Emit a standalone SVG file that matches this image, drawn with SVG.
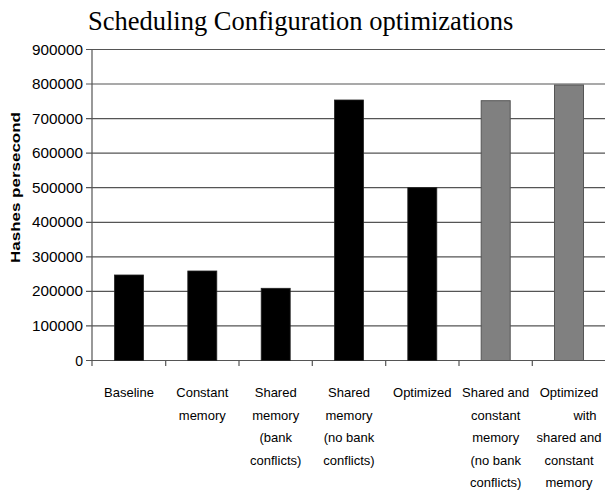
<svg xmlns="http://www.w3.org/2000/svg" width="605" height="495" viewBox="0 0 605 495">
<style>
.grid{stroke:#555;stroke-width:1.2;fill:none}
.axis{stroke:#555;stroke-width:1.2;fill:none}
.bar{fill:#000;stroke:#222;stroke-width:0.8}
.gbar{fill:#808080;stroke:#555;stroke-width:1}
.yl{font-family:"Liberation Sans",Arial,sans-serif;font-size:14px;fill:#000;text-anchor:end}
.xl{font-family:"Liberation Sans",Arial,sans-serif;font-size:13px;fill:#000;text-anchor:middle}
.title{font-family:"Liberation Serif","Times New Roman",serif;font-size:26.5px;fill:#000}
.ytitle{font-family:"Liberation Sans",Arial,sans-serif;font-size:12px;font-weight:bold;fill:#000;text-anchor:middle}
</style>
<rect width="605" height="495" fill="#fff"/>
<text class="title" x="88" y="30">Scheduling Configuration optimizations</text>
<g id="gridlines">
<path class="grid" d="M86 49.5H605M86 84H605M86 118.6H605M86 153.2H605M86 187.7H605M86 222.3H605M86 256.8H605M86 291.4H605M86 325.9H605M86 360.5H605"/>
</g>
<g id="axes">
<path class="axis" d="M92 49.5V366M165.7 360.5V366M239 360.5V366M312.3 360.5V366M385.7 360.5V366M459 360.5V366M532.3 360.5V366"/>
</g>
<g id="ylabels">
<text class="yl" x="83" y="54.5" textLength="51" lengthAdjust="spacingAndGlyphs">900000</text>
<text class="yl" x="83" y="89" textLength="51" lengthAdjust="spacingAndGlyphs">800000</text>
<text class="yl" x="83" y="123.6" textLength="51" lengthAdjust="spacingAndGlyphs">700000</text>
<text class="yl" x="83" y="158.2" textLength="51" lengthAdjust="spacingAndGlyphs">600000</text>
<text class="yl" x="83" y="192.7" textLength="51" lengthAdjust="spacingAndGlyphs">500000</text>
<text class="yl" x="83" y="227.3" textLength="51" lengthAdjust="spacingAndGlyphs">400000</text>
<text class="yl" x="83" y="261.8" textLength="51" lengthAdjust="spacingAndGlyphs">300000</text>
<text class="yl" x="83" y="296.4" textLength="51" lengthAdjust="spacingAndGlyphs">200000</text>
<text class="yl" x="83" y="330.9" textLength="51" lengthAdjust="spacingAndGlyphs">100000</text>
<text class="yl" x="83" y="365.5">0</text>
</g>
<text class="ytitle" transform="translate(20,187.5) rotate(-90)" x="0" y="0" textLength="151" lengthAdjust="spacingAndGlyphs">Hashes persecond</text>
<g id="bar-baseline"><rect class="bar" x="114.5" y="275" width="29" height="85.5"/>
<text class="xl" x="129" y="397">Baseline</text></g>
<g id="bar-constant"><rect class="bar" x="187.8" y="271" width="29" height="89.5"/>
<text class="xl" x="202.3" y="397">Constant</text><text class="xl" x="202.3" y="419.5">memory</text></g>
<g id="bar-shared-bank"><rect class="bar" x="261.2" y="288.3" width="29" height="72.2"/>
<text class="xl" x="275.7" y="397">Shared</text><text class="xl" x="275.7" y="419.5">memory</text><text class="xl" x="275.7" y="442">(bank</text><text class="xl" x="275.7" y="464.5">conflicts)</text></g>
<g id="bar-shared-nobank"><rect class="bar" x="334.5" y="100" width="29" height="260.5"/>
<text class="xl" x="349" y="397">Shared</text><text class="xl" x="349" y="419.5">memory</text><text class="xl" x="349" y="442">(no bank</text><text class="xl" x="349" y="464.5">conflicts)</text></g>
<g id="bar-optimized"><rect class="bar" x="407.8" y="187.7" width="29" height="172.8"/>
<text class="xl" x="422.3" y="397">Optimized</text></g>
<g id="bar-shared-constant"><rect class="gbar" x="481.2" y="100.7" width="29" height="259.8"/>
<text class="xl" x="495.7" y="397">Shared and</text><text class="xl" x="495.7" y="419.5">constant</text><text class="xl" x="495.7" y="442">memory</text><text class="xl" x="495.7" y="464.5">(no bank</text><text class="xl" x="495.7" y="487">conflicts)</text></g>
<g id="bar-optimized-shared-constant"><rect class="gbar" x="554.5" y="85" width="29" height="275.5"/>
<text class="xl" x="569" y="397">Optimized</text><text class="xl" x="585" y="419.5">with</text><text class="xl" x="569" y="442">shared and</text><text class="xl" x="569" y="464.5">constant</text><text class="xl" x="569" y="487">memory</text></g>
</svg>
